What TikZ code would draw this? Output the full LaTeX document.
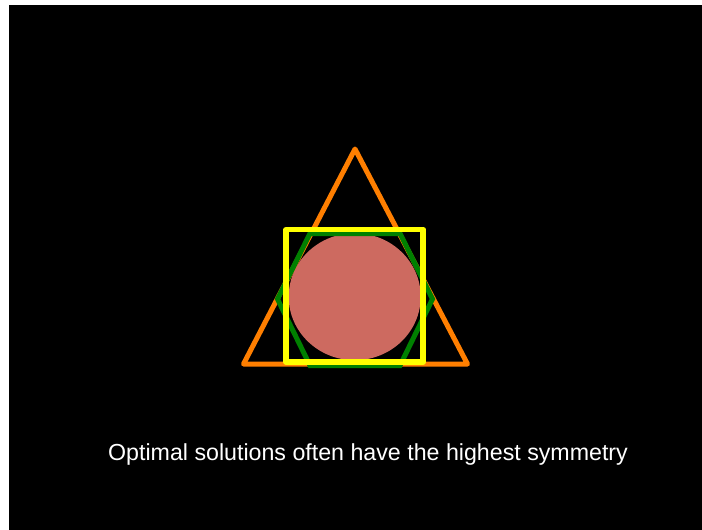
\documentclass[tikz,border=0pt]{standalone}
\usepackage{fontspec}
\setmainfont{Liberation Sans}
\begin{document}
\begin{tikzpicture}[x=1pt,y=-1pt,
  shape line/.style={line width=5pt,line join=round,line cap=round}]
\useasboundingbox (0,0) rectangle (702,530);
\fill[white] (0,0) rectangle (702,530);
\fill[black] (9,5) rectangle (702,530);
% triangle
\draw[shape line,color={rgb,255:red,255;green,127;blue,0}] (355,149) -- (243.5,364) -- (467.5,364) -- cycle;
% circle
\fill[color={rgb,255:red,205;green,106;blue,96}] (354.7,296.7) ellipse [x radius=66, y radius=63.5];
% hexagon
\draw[line width=5pt,line join=miter,color={rgb,255:red,0;green,128;blue,0}] (277.5,299) -- (310,233.5) -- (400,233.5) -- (432.5,299) -- (400,365.5) -- (310,365.5) -- cycle;
% square
\draw[line width=5.5pt,line join=round,color={rgb,255:red,255;green,255;blue,0}] (286.2,229.5) rectangle (423.2,362.2);
% caption
\node[text=white,font=\fontsize{23.2}{28}\selectfont,anchor=base] (cap) at (368,460) {Optimal solutions often have the highest symmetry};
\end{tikzpicture}
\end{document}
